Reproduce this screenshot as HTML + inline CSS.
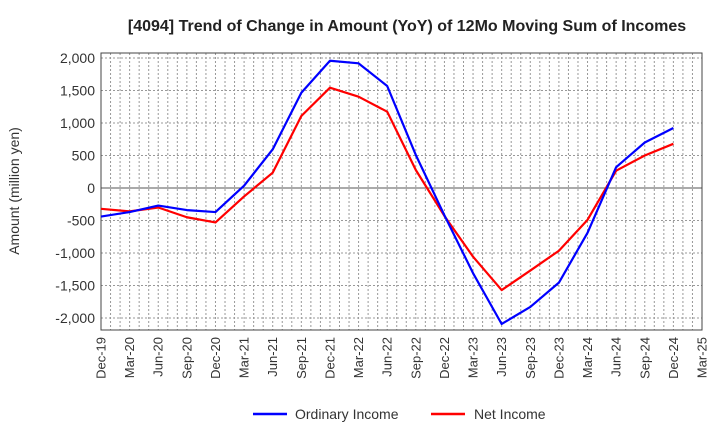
<!DOCTYPE html>
<html><head><meta charset="utf-8"><style>
body{margin:0;background:#fff;}
svg text{font-family:"Liberation Sans",sans-serif;}
</style></head><body>
<svg width="720" height="440" xmlns="http://www.w3.org/2000/svg">
<text x="407" y="31" text-anchor="middle" font-size="16" font-weight="bold" fill="#222">[4094]  Trend of Change in Amount (YoY) of 12Mo Moving Sum of Incomes</text>
<g id="grid"></g>
<g id="axes"></g>
<g id="series"></g>
<text transform="translate(19,191) rotate(-90)" text-anchor="middle" font-size="14" fill="#333">Amount (million yen)</text>
<g>
<g><line x1="253" y1="414" x2="287" y2="414" stroke="#0000ff" stroke-width="2.5"/><text x="295" y="419" font-size="14" fill="#333">Ordinary Income</text></g>
<g><line x1="431" y1="414" x2="465" y2="414" stroke="#ff0000" stroke-width="2.5"/><text x="474" y="419" font-size="14" fill="#333">Net Income</text></g>
</g>
</svg>
<script>
const categories=["Dec-19","Mar-20","Jun-20","Sep-20","Dec-20","Mar-21","Jun-21","Sep-21","Dec-21","Mar-22","Jun-22","Sep-22","Dec-22","Mar-23","Jun-23","Sep-23","Dec-23","Mar-24","Jun-24","Sep-24","Dec-24","Mar-25"];
const ordinaryIncome=[-440,-370,-270,-340,-370,36,595,1466,1958,1918,1569,508,-420,-1310,-2092,-1830,-1456,-690,320,700,923];
const netIncome=[-320,-360,-300,-450,-530,-130,236,1108,1543,1405,1174,277,-430,-1057,-1570,-1270,-965,-490,266,500,680];
const yTicks=[2000,1500,1000,500,0,-500,-1000,-1500,-2000];
const L=101,R=702,T=53,B=330;
const y0=188,pxPer=0.065;
function yS(v){return y0-v*pxPer;}
const step=(R-L)/(categories.length-1);
function xS(i){return L+i*step;}
function fmt(v){const s=String(Math.abs(v)).replace(/\B(?=(\d{3})+(?!\d))/g,',');return (v<0?'-':'')+s;}
const NS="http://www.w3.org/2000/svg";
function mk(t,a,p){const e=document.createElementNS(NS,t);for(const k in a)e.setAttribute(k,a[k]);p.appendChild(e);return e;}
const grid=document.getElementById('grid'),axes=document.getElementById('axes'),ser=document.getElementById('series');
for(let m=1;m<(categories.length-1)*3;m++){const x=L+m*step/3;
const g=mk('line',{x1:x,x2:x,y1:T,y2:B,stroke:'#999','stroke-dasharray':'2,2','stroke-width':1},grid);

}
yTicks.forEach(v=>{const y=yS(v);
const g=mk('line',{x1:L,x2:R,y1:y,y2:y,stroke:v===0?'#555':'#999','stroke-dasharray':v===0?'':'2,2','stroke-width':1},grid);


const t=mk('text',{x:L-6,y:y+5,'text-anchor':'end','font-size':14,fill:'#333'},axes);
t.textContent=fmt(v);

});
const fr=mk('rect',{x:L,y:T,width:R-L,height:B-T,fill:'none',stroke:'#444','stroke-width':1},axes);


categories.forEach((c,i)=>{const x=xS(i);
const t=mk('text',{transform:`translate(${x+4.5},${B+7}) rotate(-90)`,'text-anchor':'end','font-size':13,fill:'#333'},axes);
t.textContent=c;

});
function line(d,col,name){const p=mk('polyline',{points:d.map((v,i)=>xS(i)+','+yS(v)).join(' '),fill:'none',stroke:col,'stroke-width':2.2,'stroke-linejoin':'round'},ser);

}
line(netIncome,'#ff0000','net-income-line');
line(ordinaryIncome,'#0000ff','ordinary-income-line');
</script>
</body></html>
